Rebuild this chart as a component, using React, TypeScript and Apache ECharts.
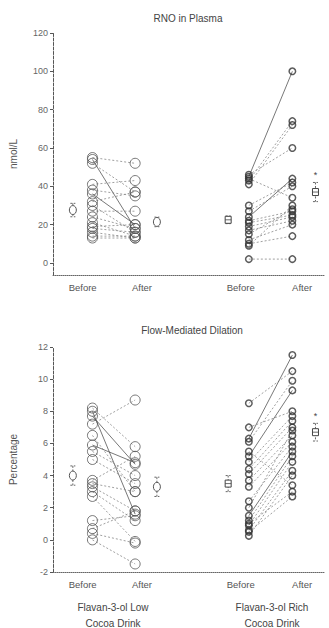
import React, { useEffect, useRef } from "react";
import * as echarts from "echarts";

// ---- Data ----
const X_LABELS = ["Before", "After", "Before", "After"];
const RNO_TICKS = [0, 20, 40, 60, 80, 100, 120];

// RXNO in plasma (nmol/L), paired before/after
const LOW_RNO_BEFORE = [55, 54, 52, 41, 38, 36, 32, 30, 27, 24, 21, 19, 18, 16, 14, 13];
const LOW_RNO_AFTER = [52, 18, 37, 43, 35, 20, 37, 16, 27, 18, 14, 20, 16, 13, 14, 13];
const RICH_RNO_BEFORE = [45, 43, 41, 46, 44, 30, 27, 24, 22, 21, 19, 17, 15, 12, 10, 2, 9];
const RICH_RNO_AFTER = [100, 74, 72, 60, 34, 42, 40, 44, 27, 25, 24, 22, 28, 20, 14, 2, 30];

// Flow-mediated dilation (%), paired before/after
const LOW_FMD_BEFORE = [8.2, 8.0, 7.7, 7.2, 6.5, 5.9, 5.5, 5.0, 3.7, 3.5, 3.3, 3.0, 2.7, 1.2, 0.7, 0.4, 0.0];
const LOW_FMD_AFTER = [5.8, 1.6, 4.7, 8.7, 3.0, 4.8, 4.0, 3.5, 5.2, 3.0, 1.8, 1.2, -0.1, 1.5, 1.8, -0.2, -1.5];
const RICH_FMD_BEFORE = [8.5, 6.3, 7.0, 6.1, 5.2, 4.85, 4.4, 4.1, 3.7, 3.3, 2.4, 1.5, 1.2, 0.9, 0.6, 0.25, 5.5, 1.0, 0.5, 2.0];
const RICH_FMD_AFTER = [10.5, 11.5, 8.0, 9.9, 9.3, 7.7, 7.4, 7.0, 6.5, 6.1, 5.8, 5.5, 5.2, 4.85, 4.3, 4.0, 3.4, 3.0, 2.7, 6.8];

// Group means and error bars: [lowBefore, lowAfter, richBefore, richAfter]
const RNO_MEANS = [27.6, 21.4, 22.5, 37];
const RNO_ERR = [3.5, 2.5, 2, 5];
const FMD_MEANS = [4.0, 3.3, 3.5, 6.7];
const FMD_ERR = [0.6, 0.6, 0.5, 0.55];
const SIGNIFICANT = [false, false, false, true];

// Line style choices (indices of pairs drawn solid)
const SOLID_LOW_RNO = [1, 5];
const SOLID_RICH_RNO = [0, 7];
const SOLID_LOW_FMD = [1, 2, 5];
const SOLID_RICH_FMD = [1, 4, 11];

// ---- Layout constants ----
const X_MEAN_LOW_B = 0.73;
const X_LOW_B = 1.45;
const X_LOW_A = 3.02;
const X_MEAN_LOW_A = 3.82;
const X_MEAN_RICH_B = 6.44;
const X_RICH_B = 7.2;
const X_RICH_A = 8.8;
const X_MEAN_RICH_A = 9.65;
const X_LABEL_POS = [1.09, 3.27, 6.9, 9.16];
const MEAN_X = [X_MEAN_LOW_B, X_MEAN_LOW_A, X_MEAN_RICH_B, X_MEAN_RICH_A];

const FONT = "Liberation Sans, Arial, sans-serif";
const INK = "#555";

function pairSeries(
  before: number[],
  after: number[],
  xb: number,
  xa: number,
  g: number,
  solid: number[],
  size: number,
  bw: number,
  stroke: string
) {
  const out: any[] = [];
  before.forEach((b, i) => {
    out.push({
      type: "line",
      xAxisIndex: g,
      yAxisIndex: g,
      data: [
        [xb, b],
        [xa, after[i]],
      ],
      symbol: "none",
      silent: true,
      z: 2,
      lineStyle: {
        color: solid.includes(i) ? "#555" : "#888",
        width: 0.8,
        type: solid.includes(i) ? "solid" : [2, 2],
      },
    });
  });
  const sc = (vals: number[], x: number) => ({
    type: "scatter",
    xAxisIndex: g,
    yAxisIndex: g,
    data: vals.map((v) => [x, v]),
    symbol: "circle",
    symbolSize: size,
    silent: true,
    z: 3,
    itemStyle: { color: "rgba(255,255,255,0)", borderColor: stroke, borderWidth: bw },
  });
  out.push(sc(before, xb), sc(after, xa));
  return out;
}

function meanSeries(means: number[], errs: number[], g: number) {
  return {
    type: "custom",
    xAxisIndex: g,
    yAxisIndex: g,
    silent: true,
    z: 4,
    data: means.map((m, i) => [MEAN_X[i], m, m - errs[i], m + errs[i], i]),
    renderItem: (params: any, api: any) => {
      const x = api.value(0);
      const c = api.coord([x, api.value(1)]);
      const lo = api.coord([x, api.value(2)]);
      const hi = api.coord([x, api.value(3)]);
      const idx = api.value(4);
      const rich = idx >= 2;
      const stroke = { stroke: "#555", lineWidth: 0.9, lineDash: [2, 1.5], fill: null };
      const children: any[] = [
        { type: "line", shape: { x1: c[0], y1: hi[1], x2: c[0], y2: lo[1] }, style: stroke },
        { type: "line", shape: { x1: c[0] - 2.5, y1: hi[1], x2: c[0] + 2.5, y2: hi[1] }, style: stroke },
        { type: "line", shape: { x1: c[0] - 2.5, y1: lo[1], x2: c[0] + 2.5, y2: lo[1] }, style: stroke },
      ];
      if (rich) {
        children.push({
          type: "rect",
          shape: { x: c[0] - 3, y: c[1] - 3.5, width: 6, height: 7 },
          style: { fill: "#fff", stroke: "#444", lineWidth: 1 },
        });
        children.push({
          type: "line",
          shape: { x1: c[0] - 3, y1: c[1], x2: c[0] + 3, y2: c[1] },
          style: { stroke: "#444", lineWidth: 0.8 },
        });
      } else {
        children.push({
          type: "ellipse",
          shape: { cx: c[0], cy: c[1], rx: 3.5, ry: 4.5 },
          style: { fill: "#fff", stroke: "#555", lineWidth: 1 },
        });
      }
      if (SIGNIFICANT[idx]) {
        children.push({
          type: "text",
          x: c[0],
          y: hi[1] - 7,
          style: {
            text: "*",
            fill: "#444",
            fontSize: 9,
            fontFamily: FONT,
            align: "center",
            textAlign: "center",
            verticalAlign: "middle",
          },
        });
      }
      return { type: "group", children };
    },
  };
}

function xAxis(g: number) {
  return {
    type: "value",
    gridIndex: g,
    min: 0,
    max: 10,
    axisLine: { onZero: false, lineStyle: { color: "#666", type: "dotted", width: 1 } },
    axisTick: { show: false },
    splitLine: { show: false },
    axisLabel: {
      customValues: X_LABEL_POS,
      formatter: (v: number) => {
        let best = 0;
        X_LABEL_POS.forEach((p, i) => {
          if (Math.abs(p - v) < Math.abs(X_LABEL_POS[best] - v)) best = i;
        });
        return X_LABELS[best];
      },
      color: INK,
      fontSize: 9.5,
      fontFamily: FONT,
      margin: 7,
    },
  };
}

export default function App() {
  const ref = useRef<HTMLDivElement>(null);
  useEffect(() => {
    if (!ref.current) return;
    const chart = echarts.init(ref.current, null, { renderer: "svg" });
    const yCommon = {
      type: "value",
      axisLine: { show: true, lineStyle: { color: "#555", type: [3, 1.5], width: 1 } },
      axisTick: { show: true, length: 3, lineStyle: { color: "#555" } },
      splitLine: { show: false },
      nameLocation: "middle",
      nameGap: 35,
      nameRotate: 90,
      nameTextStyle: { color: INK, fontSize: 10, fontFamily: FONT },
    };
    chart.setOption({
      animation: false,
      backgroundColor: "#fff",
      grid: [
        { left: 50, top: 33, width: 275, height: 242 },
        { left: 50, top: 347, width: 275, height: 225 },
      ],
      xAxis: [xAxis(0), xAxis(1)],
      yAxis: [
        {
          ...yCommon,
          gridIndex: 0,
          name: "nmol/L",
          min: -6.3,
          max: 120,
          axisTick: { ...yCommon.axisTick, customValues: RNO_TICKS },
          axisLabel: { customValues: RNO_TICKS, color: "#666", fontSize: 9, fontFamily: FONT, margin: 5 },
        },
        {
          ...yCommon,
          gridIndex: 1,
          name: "Percentage",
          min: -2,
          max: 12,
          interval: 2,
          axisLabel: { color: "#666", fontSize: 9, fontFamily: FONT, margin: 5 },
        },
      ],
      graphic: [
        { type: "text", x: 188, y: 18, style: { text: "RNO in Plasma", fill: "#444", fontSize: 10, fontFamily: FONT, align: "center", verticalAlign: "middle" } },
        { type: "text", x: 192, y: 330, style: { text: "Flow-Mediated Dilation", fill: "#444", fontSize: 10, fontFamily: FONT, align: "center", verticalAlign: "middle" } },
        { type: "text", x: 113, y: 607, style: { text: "Flavan-3-ol Low", fill: "#444", fontSize: 10, fontFamily: FONT, align: "center", verticalAlign: "middle" } },
        { type: "text", x: 113, y: 623, style: { text: "Cocoa Drink", fill: "#444", fontSize: 10, fontFamily: FONT, align: "center", verticalAlign: "middle" } },
        { type: "text", x: 272, y: 607, style: { text: "Flavan-3-ol Rich", fill: "#444", fontSize: 10, fontFamily: FONT, align: "center", verticalAlign: "middle" } },
        { type: "text", x: 272, y: 623, style: { text: "Cocoa Drink", fill: "#444", fontSize: 10, fontFamily: FONT, align: "center", verticalAlign: "middle" } },
      ],
      series: [
        ...pairSeries(LOW_RNO_BEFORE, LOW_RNO_AFTER, X_LOW_B, X_LOW_A, 0, SOLID_LOW_RNO, 10, 1, "#555"),
        ...pairSeries(RICH_RNO_BEFORE, RICH_RNO_AFTER, X_RICH_B, X_RICH_A, 0, SOLID_RICH_RNO, 6.5, 1.5, "#333"),
        ...pairSeries(LOW_FMD_BEFORE, LOW_FMD_AFTER, X_LOW_B, X_LOW_A, 1, SOLID_LOW_FMD, 10, 1, "#555"),
        ...pairSeries(RICH_FMD_BEFORE, RICH_FMD_AFTER, X_RICH_B, X_RICH_A, 1, SOLID_RICH_FMD, 6.5, 1.5, "#333"),
        meanSeries(RNO_MEANS, RNO_ERR, 0),
        meanSeries(FMD_MEANS, FMD_ERR, 1),
      ],
    });
    return () => chart.dispose();
  }, []);
  return (
    <div
      ref={ref}
      style={{ position: "fixed", left: 0, top: 0, width: 329, height: 628, background: "#fff" }}
    />
  );
}
